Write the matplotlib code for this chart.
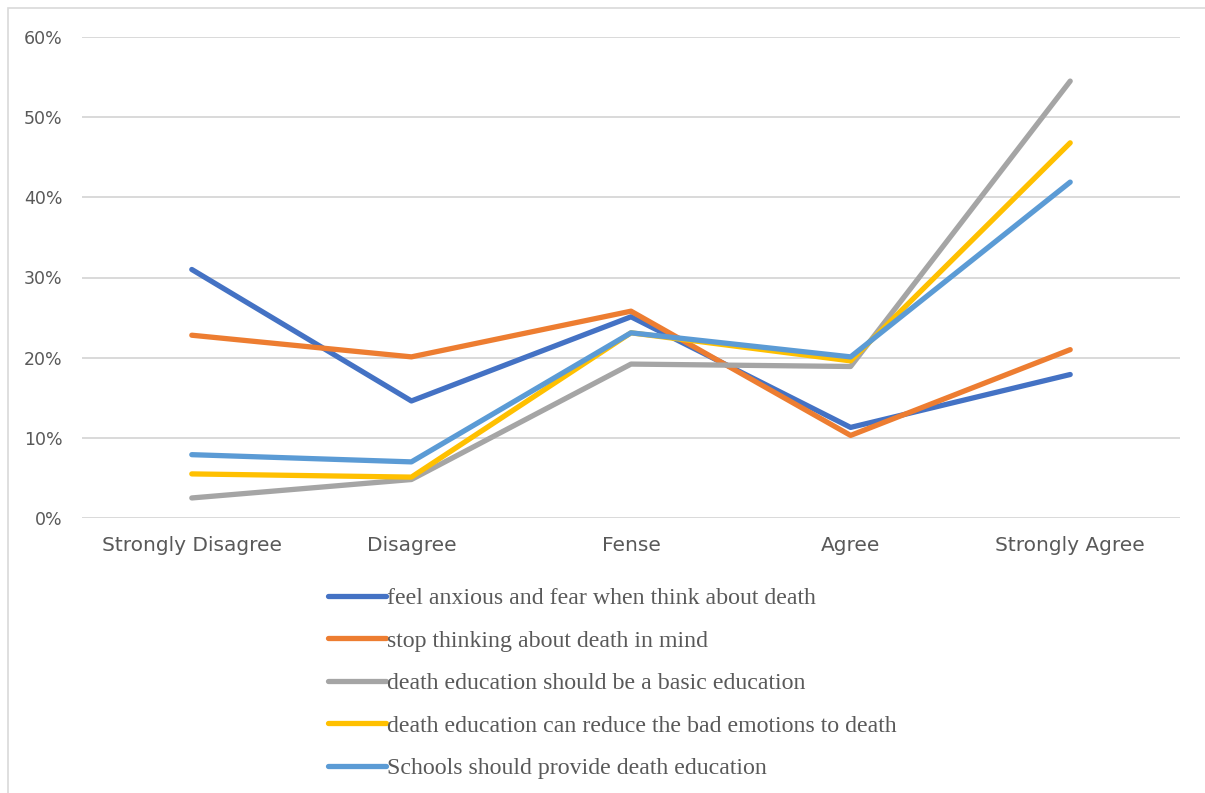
import matplotlib.pyplot as plt
from matplotlib.ticker import PercentFormatter
from matplotlib.patches import Rectangle

categories = ['Strongly Disagree', 'Disagree', 'Fense', 'Agree', 'Strongly Agree']
anxious = [31.0, 14.6, 25.1, 11.3, 17.9]
stop_thinking = [22.8, 20.1, 25.8, 10.3, 21.0]
basic_edu = [2.5, 4.8, 19.2, 18.9, 54.5]
reduce_bad = [5.5, 5.1, 23.1, 19.6, 46.8]
schools = [7.9, 7.0, 23.1, 20.1, 41.9]

series = [
    ('feel anxious and fear when think about death', anxious, '#4472C4'),
    ('stop thinking about death in mind', stop_thinking, '#ED7D31'),
    ('death education should be a basic education', basic_edu, '#A5A5A5'),
    ('death education can reduce the bad emotions to death', reduce_bad, '#FFC000'),
    ('Schools should provide death education', schools, '#5B9BD5'),
]

W, H = 1205, 793
fig = plt.figure(figsize=(W / 100, H / 100), dpi=100)
ax = fig.add_axes([82 / W, (H - 518) / H, (1180 - 82) / W, 481 / H])

x = range(len(categories))
for label, vals, color in series:
    ax.plot(x, vals, color=color, lw=3.8, label=label, solid_capstyle='round',
            solid_joinstyle='round')

ax.set_xlim(-0.5, len(categories) - 0.5)
ax.set_ylim(0, 60)
ax.set_yticks(range(0, 61, 10))
ax.yaxis.set_major_formatter(PercentFormatter(decimals=0))
ax.set_xticks(list(x))
ax.set_xticklabels(categories)
ax.tick_params(length=0, labelcolor='#595959')
ax.tick_params(axis='x', labelsize=14.5, pad=13)
ax.tick_params(axis='y', labelsize=12.5, pad=14)
ax.grid(axis='y', color='#D9D9D9', lw=1.4)
ax.set_axisbelow(True)
for s in ax.spines.values():
    s.set_visible(False)

# outer chart border
fig.patches.append(Rectangle((8 / W, -0.1), 1.2, (H - 8) / H + 0.1, transform=fig.transFigure,
                             fill=False, edgecolor='#D9D9D9', lw=1.2))

leg = fig.legend(loc='upper left', bbox_to_anchor=(306 / W, (H - 566) / H), frameon=False,
                 prop={'family': 'Liberation Serif', 'size': 17.2}, labelcolor='#595959',
                 handlelength=2.45, handletextpad=0.05, labelspacing=0.87)

fig.savefig('out.png', dpi=100)
